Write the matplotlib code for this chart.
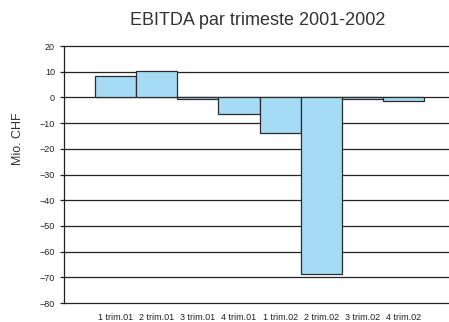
import numpy as np
import matplotlib.pyplot as plt

# Quarterly EBITDA values (Mio. CHF)
quarters = ['1 trim.01', '2 trim.01', '3 trim.01', '4 trim.01',
            '1 trim.02', '2 trim.02', '3 trim.02', '4 trim.02']
ebitda = [8.3, 10.2, -0.8, -6.3, -14.0, -68.8, -0.8, -1.5]
y_ticks = [20, 10, 0, -10, -20, -30, -40, -50, -60, -70, -80]

plt.rcParams['font.family'] = ['Liberation Sans', 'DejaVu Sans']

fig = plt.figure(figsize=(4.49, 3.22), dpi=100)
ax = fig.add_axes([0.1425, 0.059, 0.8575, 0.798])

x = np.arange(len(quarters))
ax.bar(x, ebitda, width=1.0, color='#a6dbf5', edgecolor='#2b2b2b', linewidth=0.9, zorder=3)

# Horizontal gridlines
for v in y_ticks:
    ax.axhline(v, color='#222222', linewidth=0.9, zorder=1, clip_on=False)

ax.set_ylim(-80, 20)
ax.set_xlim(-1.25, 8.1)
ax.set_yticks(y_ticks)
ax.set_xticks(x)
ax.set_xticklabels(quarters, fontsize=6.5, color='#222222')
ax.tick_params(axis='y', labelsize=6.5, colors='#222222', length=3, width=0.9)
ax.tick_params(axis='x', length=0, pad=7)

for s in ['top', 'right', 'bottom']:
    ax.spines[s].set_visible(False)
ax.spines['left'].set_color('#222222')
ax.spines['left'].set_linewidth(0.9)

fig.text(0.04, 0.568, 'Mio. CHF', rotation=90, ha='center', va='center',
         fontsize=9, color='#333333')
fig.text(0.575, 0.935, 'EBITDA par trimeste 2001-2002', ha='center', va='center',
         fontsize=13, color='#333333')

plt.savefig('out.png', dpi=100)
